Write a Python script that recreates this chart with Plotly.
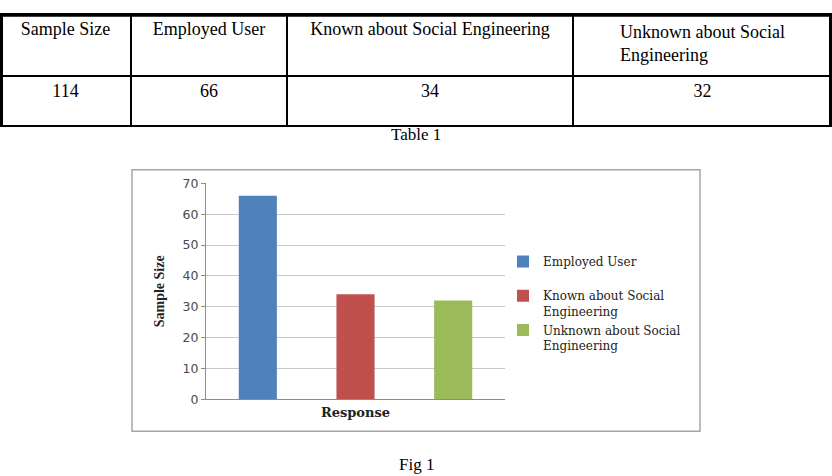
import plotly.graph_objects as go

# ---- data ----
table_headers = ["Sample Size", "Employed User", "Known about Social Engineering",
                 "Unknown about Social<br>Engineering"]
table_values = ["114", "66", "34", "32"]

series_names = ["Employed User<br> ", "Known about Social<br>Engineering",
                "Unknown about Social<br>Engineering"]
series_values = [66, 34, 32]
series_colors = ["#4F81BD", "#C0504D", "#9BBB59"]
category = ["Response"]
y_ticks = [0, 10, 20, 30, 40, 50, 60, 70]

W, H = 832, 476


def py(px):
    return 1 - px / H


def pxx(px):
    return px / W


fig = go.Figure()

# table
fig.add_trace(go.Table(
    domain=dict(x=[0, 1], y=[py(124), py(6)]),
    columnwidth=[131, 156, 286, 259],
    header=dict(values=table_headers, height=62, align="center",
                line=dict(color="black", width=2), fill=dict(color="white"),
                font=dict(family="Liberation Serif", size=18, color="black")),
    cells=dict(values=[[v] for v in table_values], height=50, align="center",
               line=dict(color="black", width=2), fill=dict(color="white"),
               font=dict(family="Liberation Serif", size=18, color="black")),
))

for name, val, col in zip(series_names, series_values, series_colors):
    fig.add_trace(go.Bar(x=category, y=[val], name=name, marker=dict(color=col, line=dict(width=0))))

frame = dict(color="black", width=2)
fig.update_layout(
    width=W, height=H,
    margin=dict(l=0, r=0, t=0, b=0),
    paper_bgcolor="white", plot_bgcolor="white",
    barmode="group", bargap=0.02, bargroupgap=0.61,
    showlegend=True,
    legend=dict(x=pxx(503), y=py(247), xanchor="left", yanchor="top", valign="top",
                font=dict(family="DejaVu Serif", size=12, color="#222"),
                bgcolor="rgba(0,0,0,0)", itemwidth=30),
    xaxis=dict(domain=[pxx(206), pxx(505)], showticklabels=False, showline=True,
               linecolor="#8c8c8c", linewidth=1, ticks="",
               title=dict(text="<b>Response</b>", standoff=8,
                          font=dict(family="DejaVu Serif", size=13, color="#222"))),
    yaxis=dict(domain=[py(404), py(181)], range=[0, 70], tickvals=y_ticks,
               showgrid=True, gridcolor="#c8c8c8", gridwidth=1,
               showline=True, linecolor="#8c8c8c", linewidth=1,
               ticks="outside", ticklen=4, tickcolor="#8c8c8c",
               tickfont=dict(family="DejaVu Sans", size=12.5, color="#4a4a4a"),
               zeroline=False,
               title=dict(text="<b>Sample Size</b>", standoff=14,
                          font=dict(family="Liberation Serif", size=14, color="#222"))),
    shapes=[
        dict(type="rect", xref="paper", yref="paper",
             x0=pxx(132), x1=pxx(700), y0=py(437), y1=py(167),
             line=dict(color="#a6a6a6", width=1.5), fillcolor="rgba(0,0,0,0)"),
        dict(type="line", xref="paper", yref="paper", x0=0, x1=1, y0=py(8), y1=py(8), line=frame),
        dict(type="line", xref="paper", yref="paper", x0=pxx(2), x1=pxx(2), y0=py(8), y1=py(122), line=frame),
        dict(type="line", xref="paper", yref="paper", x0=pxx(830), x1=pxx(830), y0=py(8), y1=py(122), line=frame),
    ],
    annotations=[
        dict(text="Table 1", x=0.5, y=py(131), xref="paper", yref="paper", yanchor="middle",
             showarrow=False, font=dict(family="Liberation Serif", size=17, color="black")),
        dict(text="Fig 1", x=0.5, y=py(471), xref="paper", yref="paper", yanchor="middle",
             showarrow=False, font=dict(family="Liberation Serif", size=17, color="black")),
    ],
)

fig.write_html("out.html")
